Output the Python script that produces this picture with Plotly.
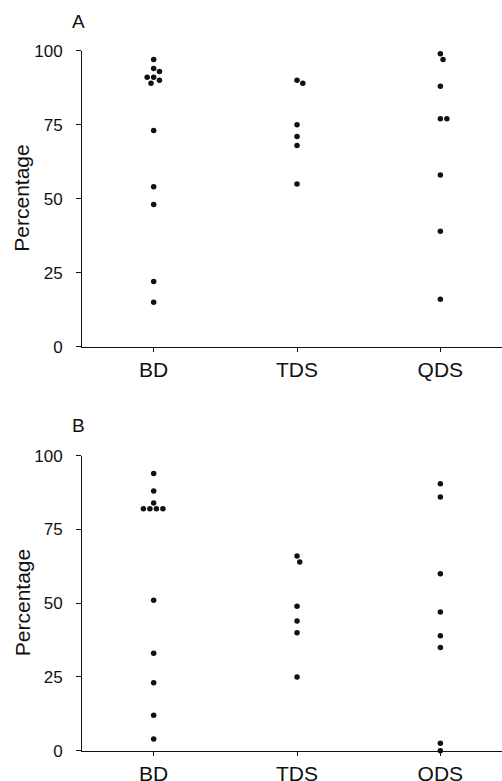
import plotly.graph_objects as go

# ---------------- data ----------------
categories = ["BD", "TDS", "QDS"]
panel_a_bd = [97, 94, 93, 91, 91, 90, 89, 73, 54, 48, 22, 15]
panel_a_tds = [90, 89, 75, 71, 68, 55]
panel_a_qds = [99, 97, 88, 77, 77, 58, 39, 16]
panel_b_bd = [94, 88, 84, 82, 82, 82, 82, 51, 33, 23, 12, 4]
panel_b_tds = [66, 64, 49, 44, 40, 25]
panel_b_qds = [90.5, 86, 60, 47, 39, 35, 2.5, 0]
y_ticks = [0, 25, 50, 75, 100]
panel_labels = ["A", "B"]
y_title = "Percentage"

# ---------------- layout constants ----------------
W, H = 502, 781
L = 82
X_RANGE = [-0.5, 2.43]
Y_RANGE = [0, 100]
PANELS = [(50.7, 346.7), (455.7, 750.7)]   # top/bottom pixel of each plot area
DOT = 5.5
SWARM_D = 6.5
FONT = "Liberation Sans, Arial, Helvetica, sans-serif"
INK = "#111111"

px_per_x = (W - L) / (X_RANGE[1] - X_RANGE[0])


def beeswarm(values, ypu, d):
    placed, offs = [], []
    for v in values:
        y = v * ypu
        forb = []
        for px, py in placed:
            dy = abs(py - y)
            if dy < d:
                h = (d * d - dy * dy) ** 0.5
                forb.append((px - h, px + h))
        cands = [0.0] + [a for iv in forb for a in iv]
        cands.sort(key=lambda c: (abs(c), -c))
        chosen = 0.0
        for c in cands:
            if all(not (lo + 1e-9 < c < hi - 1e-9) for lo, hi in forb):
                chosen = c
                break
        placed.append((chosen, y))
        offs.append(chosen)
    return offs


fig = go.Figure()
panels_data = [
    [panel_a_bd, panel_a_tds, panel_a_qds],
    [panel_b_bd, panel_b_tds, panel_b_qds],
]

for p, groups in enumerate(panels_data):
    top, bot = PANELS[p]
    ypu = (bot - top) / (Y_RANGE[1] - Y_RANGE[0])
    xs, ys = [], []
    for ci, vals in enumerate(groups):
        offs = beeswarm(vals, ypu, SWARM_D)
        xs += [ci + o / px_per_x for o in offs]
        ys += list(vals)
    sfx = "" if p == 0 else "2"
    fig.add_trace(go.Scatter(
        x=xs, y=ys, mode="markers",
        marker=dict(size=DOT, color=INK, line=dict(width=0)),
        xaxis="x" + sfx, yaxis="y" + sfx, cliponaxis=False,
        showlegend=False, hoverinfo="y",
    ))

layout = dict(
    width=W, height=H,
    margin=dict(l=L, r=0, t=0, b=0),
    paper_bgcolor="white", plot_bgcolor="white",
    font=dict(family=FONT, color=INK),
    showlegend=False,
)

annotations = []
for p in range(2):
    top, bot = PANELS[p]
    sfx = "" if p == 0 else "2"
    dom = [1 - bot / H, 1 - top / H]
    layout["xaxis" + sfx] = dict(
        domain=[0, 1], range=X_RANGE, anchor="y" + sfx,
        tickvals=[0, 1, 2], ticktext=categories,
        showline=True, linecolor=INK, linewidth=1,
        ticks="outside", ticklen=4, tickcolor=INK, tickwidth=1,
        showgrid=False, zeroline=False, automargin=False,
        tickfont=dict(size=21, family=FONT, color=INK),
        ticklabelstandoff=0, fixedrange=True,
    )
    layout["yaxis" + sfx] = dict(
        domain=dom, range=Y_RANGE, anchor="x" + sfx,
        tickvals=y_ticks,
        showline=True, linecolor=INK, linewidth=1,
        ticks="outside", ticklen=5, tickcolor=INK, tickwidth=1,
        showgrid=False, zeroline=False, automargin=False,
        tickfont=dict(size=17, family=FONT, color=INK),
        ticklabelstandoff=10, fixedrange=True,
    )
    # y-axis title
    annotations.append(dict(
        text=y_title, textangle=-90, showarrow=False,
        xref="paper", yref="paper",
        x=(22 - L) / (W - L), y=1 - (top + bot) / 2 / H,
        xanchor="center", yanchor="middle",
        font=dict(size=21, family=FONT, color=INK),
    ))
    # panel label
    lab_y = 21.7 if p == 0 else 425.5
    annotations.append(dict(
        text=panel_labels[p], showarrow=False,
        xref="paper", yref="paper",
        x=(78 - L) / (W - L), y=1 - lab_y / H,
        xanchor="center", yanchor="middle",
        font=dict(size=19, family=FONT, color=INK),
    ))

layout["annotations"] = annotations
fig.update_layout(**layout)
fig.write_html(
    "out.html",
    config={"displayModeBar": False, "staticPlot": True},
    post_script="document.body.style.margin='0';document.body.style.padding='0';"
                "document.body.style.overflow='hidden';",
)
